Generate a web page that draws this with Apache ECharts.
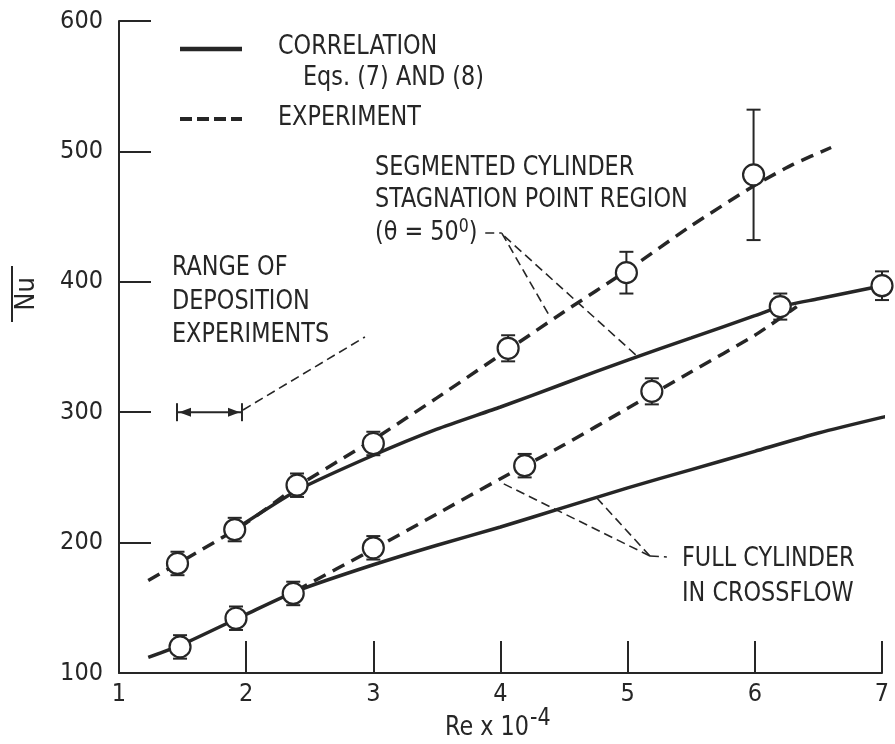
<!DOCTYPE html>
<html>
<head>
<meta charset="utf-8">
<script src="https://cdn.jsdelivr.net/npm/echarts@6/dist/echarts.min.js"></script>
<style>
html, body { margin: 0; padding: 0; background: #fff; }
#main { width: 895px; height: 744px; }
</style>
</head>
<body>
<div id="main"></div>
<script>
// axis ticks
var xTicks = [1, 2, 3, 4, 5, 6, 7];
var yTicks = [100, 200, 300, 400, 500, 600];

// segmented cylinder, stagnation point region
var segCorrelation = [[1.91,210],[2.4,240],[3,267],[3.5,287],[4,304],[4.5,322],[5,340],[5.5,357],[6,374],[6.2,381],[6.5,387],[7,397],[7.1,399]];
var segExperiment = [[1.23,171],[1.5,186],[2,215],[2.4,243],[3,279],[3.5,311],[4,344],[4.5,377],[5,409],[5.5,443],[6,474],[6.3,490],[6.6,503]];
var segPoints = [[1.46,184],[1.91,210],[2.40,244],[3.0,276],[4.06,349],[4.99,407],[5.99,482]];
var segErr = [9, 9, 9, 9, 10, 16, 50];

// full cylinder in crossflow
var fullCorrelation = [[1.23,112],[1.5,122],[2,145],[2.4,163],[3,183],[3.5,198],[4,212],[4.5,227],[5,242],[5.5,256],[6,270],[6.5,284],[7,296],[7.1,298]];
var fullExperiment = [[2.39,163],[3,195],[3.5,222],[4,249],[4.5,275],[5,303],[5.5,331],[6,359],[6.33,381]];
var fullPoints = [[1.48,120],[1.92,142],[2.37,161],[3.0,196],[4.19,259],[5.19,316],[6.2,381],[7.0,397]];
var fullErr = [9, 9, 9, 9, 9, 10, 10, 11];

// leader lines (data coords): x1, y1, x2, y2
var leaders = [
    [3.88,437.4, 4.01,437.4],
    [4.01,437.4, 4.39,373],
    [4.03,435, 5.08,342.5],
    [1.975,301.7, 2.934,357.7],
    [5.175,189.7, 5.308,189],
    [5.175,189.7, 3.995,246.5],
    [5.175,189.7, 4.758,234.2]
];
var rangeArrow = [1.456, 1.967, 300];

var FONT = "'Liberation Sans Narrow', 'DejaVu Sans Condensed', sans-serif";
var INK = '#262626';
var NARROW = 0.92;

function errData(pts, err) {
    return pts.map(function (p, i) { return [p[0], p[1], p[1] - err[i], p[1] + err[i]]; });
}

function label(text, x, y, extra) {
    var style = { text: text, fill: INK, fontSize: 27, fontFamily: FONT, textVerticalAlign: 'middle' };
    if (extra) { style.rich = extra; }
    return { type: 'text', x: x, y: y, scaleX: NARROW, style: style };
}

var chart = echarts.init(document.getElementById('main'));

function lineSeries(data, dashed) {
    return {
        type: 'line',
        data: data,
        symbol: 'none',
        smooth: 0.2,
        clip: false,
        z: 2,
        lineStyle: { color: INK, width: 3.5, type: dashed ? [13, 8] : 'solid' }
    };
}

function errSeries(data) {
    return {
        type: 'custom',
        data: data,
        z: 3,
        clip: false,
        renderItem: function (params, api) {
            var lo = api.coord([api.value(0), api.value(2)]);
            var hi = api.coord([api.value(0), api.value(3)]);
            var st = { stroke: INK, lineWidth: 2 };
            return {
                type: 'group',
                children: [
                    { type: 'line', shape: { x1: lo[0], y1: lo[1], x2: hi[0], y2: hi[1] }, style: st },
                    { type: 'line', shape: { x1: lo[0] - 7, y1: lo[1], x2: lo[0] + 7, y2: lo[1] }, style: st },
                    { type: 'line', shape: { x1: hi[0] - 7, y1: hi[1], x2: hi[0] + 7, y2: hi[1] }, style: st }
                ]
            };
        }
    };
}

function pointSeries(data) {
    return {
        type: 'scatter',
        data: data,
        symbol: 'circle',
        symbolSize: 21,
        z: 5,
        clip: false,
        itemStyle: { color: '#fff', borderColor: INK, borderWidth: 2.2, opacity: 1 }
    };
}

var option = {
    backgroundColor: '#fff',
    animation: false,
    grid: { left: 119, right: 13, top: 21, bottom: 71 },
    xAxis: {
        type: 'value',
        min: 1, max: 7, interval: 1,
        axisLine: { lineStyle: { color: INK, width: 2 } },
        axisTick: { inside: true, length: 32, lineStyle: { color: INK, width: 2 } },
        axisLabel: { color: INK, fontSize: 25, fontFamily: FONT, margin: 9,
            formatter: function (v) { return xTicks.indexOf(v) >= 0 ? String(v) : ''; } },
        splitLine: { show: false }
    },
    yAxis: {
        type: 'value',
        min: 100, max: 600, interval: 100,
        axisLine: { show: true, lineStyle: { color: INK, width: 2 } },
        axisTick: { show: true, inside: true, length: 32, lineStyle: { color: INK, width: 2 } },
        axisLabel: { color: INK, fontSize: 25, fontFamily: FONT, margin: 16,
            formatter: function (v) { return yTicks.indexOf(v) >= 0 ? String(v) : ''; } },
        splitLine: { show: false }
    },
    graphic: [
        // legend
        { type: 'line', shape: { x1: 180, y1: 49, x2: 242, y2: 49 }, style: { stroke: INK, lineWidth: 4.5 } },
        { type: 'line', shape: { x1: 180, y1: 119, x2: 242, y2: 119 }, style: { stroke: INK, lineWidth: 4, lineDash: [12, 5] } },
        label('CORRELATION', 278, 47),
        label('Eqs. (7) AND (8)', 303, 78),
        label('EXPERIMENT', 278, 118),
        // segmented cylinder note
        label('SEGMENTED CYLINDER', 375, 168),
        label('STAGNATION POINT REGION', 375, 200),
        label('(θ = 50{s|0})', 375, 233, { s: { fontSize: 19, fontFamily: FONT, fill: INK, verticalAlign: 'top', padding: [0, 0, 12, 0] } }),
        // range of deposition
        label('RANGE OF', 172, 268),
        label('DEPOSITION', 172, 302),
        label('EXPERIMENTS', 172, 335),
        // full cylinder note
        label('FULL CYLINDER', 682, 559),
        label('IN CROSSFLOW', 682, 594),
        // axis names
        label('Re x 10{s|-4}', 445, 728, { s: { fontSize: 25, fontFamily: FONT, fill: INK, verticalAlign: 'top', padding: [0, 0, 20, 1] } }),
        { type: 'text', x: 27, y: 294, rotation: Math.PI / 2, style: { text: 'Nu', fill: INK, fontSize: 27, fontFamily: FONT, textAlign: 'center', textVerticalAlign: 'middle' } },
        { type: 'line', shape: { x1: 12, y1: 266, x2: 12, y2: 322 }, style: { stroke: INK, lineWidth: 2 } }
    ],
    series: [
        lineSeries(segCorrelation, false),
        lineSeries(segExperiment, true),
        lineSeries(fullCorrelation, false),
        lineSeries(fullExperiment, true),
        errSeries(errData(segPoints, segErr)),
        errSeries(errData(fullPoints, fullErr)),
        pointSeries(segPoints),
        pointSeries(fullPoints),
        {
            // leader lines
            type: 'custom',
            data: leaders,
            z: 1,
            renderItem: function (params, api) {
                var a = api.coord([api.value(0), api.value(1)]);
                var b = api.coord([api.value(2), api.value(3)]);
                return { type: 'line', shape: { x1: a[0], y1: a[1], x2: b[0], y2: b[1] },
                    style: { stroke: INK, lineWidth: 1.6, lineDash: [9, 5] } };
            }
        },
        {
            // range of deposition experiments
            type: 'custom',
            data: [rangeArrow],
            z: 4,
            renderItem: function (params, api) {
                var a = api.coord([api.value(0), api.value(2)]);
                var b = api.coord([api.value(1), api.value(2)]);
                var st = { stroke: INK, lineWidth: 2 };
                return {
                    type: 'group',
                    children: [
                        { type: 'line', shape: { x1: a[0], y1: a[1], x2: b[0], y2: b[1] }, style: st },
                        { type: 'line', shape: { x1: a[0], y1: a[1] - 9, x2: a[0], y2: a[1] + 9 }, style: st },
                        { type: 'line', shape: { x1: b[0], y1: b[1] - 9, x2: b[0], y2: b[1] + 9 }, style: st },
                        { type: 'polygon', shape: { points: [[a[0] + 2, a[1]], [a[0] + 14, a[1] - 4.5], [a[0] + 14, a[1] + 4.5]] }, style: { fill: INK } },
                        { type: 'polygon', shape: { points: [[b[0] - 2, b[1]], [b[0] - 14, b[1] - 4.5], [b[0] - 14, b[1] + 4.5]] }, style: { fill: INK } }
                    ]
                };
            }
        }
    ]
};
chart.setOption(option);
</script>
</body>
</html>
